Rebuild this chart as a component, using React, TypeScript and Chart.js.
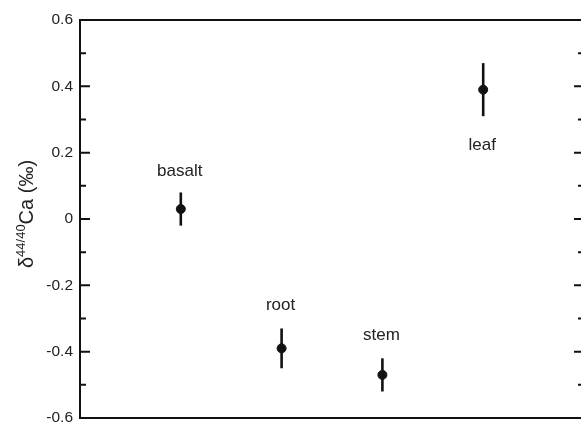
import React, { useEffect, useRef } from "react";
import { Chart, registerables } from "chart.js";

Chart.register(...registerables);

const categories = ["basalt", "root", "stem", "leaf"];
const xPositions = [1, 2, 3, 4];
const values = [0.03, -0.39, -0.47, 0.39];
const errors = [0.05, 0.06, 0.05, 0.08];
const labelY = [0.145, -0.259, -0.35, 0.223];
const yTicks = [-0.6, -0.4, -0.2, 0, 0.2, 0.4, 0.6];
const yMinorTicks = [-0.5, -0.3, -0.1, 0.1, 0.3, 0.5];

const INK = "#111";
const FONT = "'Liberation Sans', Arial, Helvetica, sans-serif";

const overlay = {
  id: "overlay",
  beforeDatasetsDraw(chart: any) {
    const { ctx } = chart;
    const xs = chart.scales.x;
    const ys = chart.scales.y;
    ctx.save();
    ctx.strokeStyle = INK;
    ctx.lineWidth = 2.6;
    ctx.lineCap = "butt";
    values.forEach((v, i) => {
      const x = xs.getPixelForValue(xPositions[i]);
      ctx.beginPath();
      ctx.moveTo(x, ys.getPixelForValue(v + errors[i]));
      ctx.lineTo(x, ys.getPixelForValue(v - errors[i]));
      ctx.stroke();
    });
    ctx.restore();
  },
  afterDraw(chart: any) {
    const { ctx, chartArea: a } = chart;
    const xs = chart.scales.x;
    const ys = chart.scales.y;
    ctx.save();
    ctx.strokeStyle = INK;
    ctx.lineWidth = 2;
    ctx.beginPath();
    ctx.moveTo(a.left, a.top);
    ctx.lineTo(a.right, a.top);
    ctx.lineTo(a.right, a.bottom);
    ctx.lineTo(a.left, a.bottom);
    ctx.closePath();
    ctx.stroke();
    const tick = (v: number, len: number) => {
      const y = ys.getPixelForValue(v);
      ctx.beginPath();
      ctx.moveTo(a.left, y);
      ctx.lineTo(a.left + len, y);
      ctx.moveTo(a.right, y);
      ctx.lineTo(a.right - len, y);
      ctx.stroke();
    };
    yTicks.forEach((v) => tick(v, 10));
    yMinorTicks.forEach((v) => tick(v, 6));

    // point labels
    ctx.fillStyle = "#222";
    ctx.font = `17px ${FONT}`;
    ctx.textAlign = "center";
    ctx.textBaseline = "middle";
    categories.forEach((c, i) => {
      ctx.fillText(c, xs.getPixelForValue(xPositions[i]) - 1, ys.getPixelForValue(labelY[i]));
    });

    // y axis title with superscript
    const parts = [
      { t: "δ", size: 20, dy: 0 },
      { t: "44/40", size: 13, dy: -8 },
      { t: "Ca (‰)", size: 20, dy: 0 },
    ];
    let total = 0;
    parts.forEach((p) => {
      ctx.font = `${p.size}px ${FONT}`;
      total += ctx.measureText(p.t).width;
    });
    ctx.translate(33, 214);
    ctx.rotate(-Math.PI / 2);
    ctx.textAlign = "left";
    ctx.textBaseline = "alphabetic";
    let cx = -total / 2;
    parts.forEach((p) => {
      ctx.font = `${p.size}px ${FONT}`;
      ctx.fillText(p.t, cx, p.dy);
      cx += ctx.measureText(p.t).width;
    });
    ctx.restore();
  },
};

export default function App() {
  const ref = useRef<HTMLCanvasElement>(null);
  useEffect(() => {
    document.body.style.margin = "0";
    document.body.style.overflow = "hidden";
    const chart = new Chart(ref.current as HTMLCanvasElement, {
      type: "scatter",
      data: {
        datasets: [
          {
            data: values.map((v, i) => ({ x: xPositions[i], y: v })),
            backgroundColor: INK,
            borderColor: INK,
            pointRadius: 4.5,
            pointHoverRadius: 4.5,
          },
        ],
      },
      options: {
        animation: false,
        responsive: false,
        maintainAspectRatio: false,
        layout: { padding: { left: 0, top: 20, right: 6, bottom: 9 } },
        plugins: { legend: { display: false }, tooltip: { enabled: false } },
        scales: {
          x: { type: "linear", display: false, min: 0, max: 5 },
          y: {
            type: "linear",
            min: -0.6,
            max: 0.6,
            afterFit: (s: any) => {
              s.width = 80;
              s.paddingTop = 0;
              s.paddingBottom = 0;
            },
            afterBuildTicks: (s: any) => {
              s.ticks = yTicks.map((v) => ({ value: v }));
            },
            grid: { display: false, drawTicks: false },
            border: { display: false },
            ticks: {
              padding: 7,
              color: "#222",
              font: { family: FONT, size: 15.5 },
              callback: (v: any) => {
                const n = Math.round(Number(v) * 10) / 10;
                return n === 0 ? "0" : n.toFixed(1);
              },
            },
          },
        },
      },
      plugins: [overlay],
    });
    return () => chart.destroy();
  }, []);
  return <canvas ref={ref} width={590} height={427} style={{ display: "block" }} />;
}
